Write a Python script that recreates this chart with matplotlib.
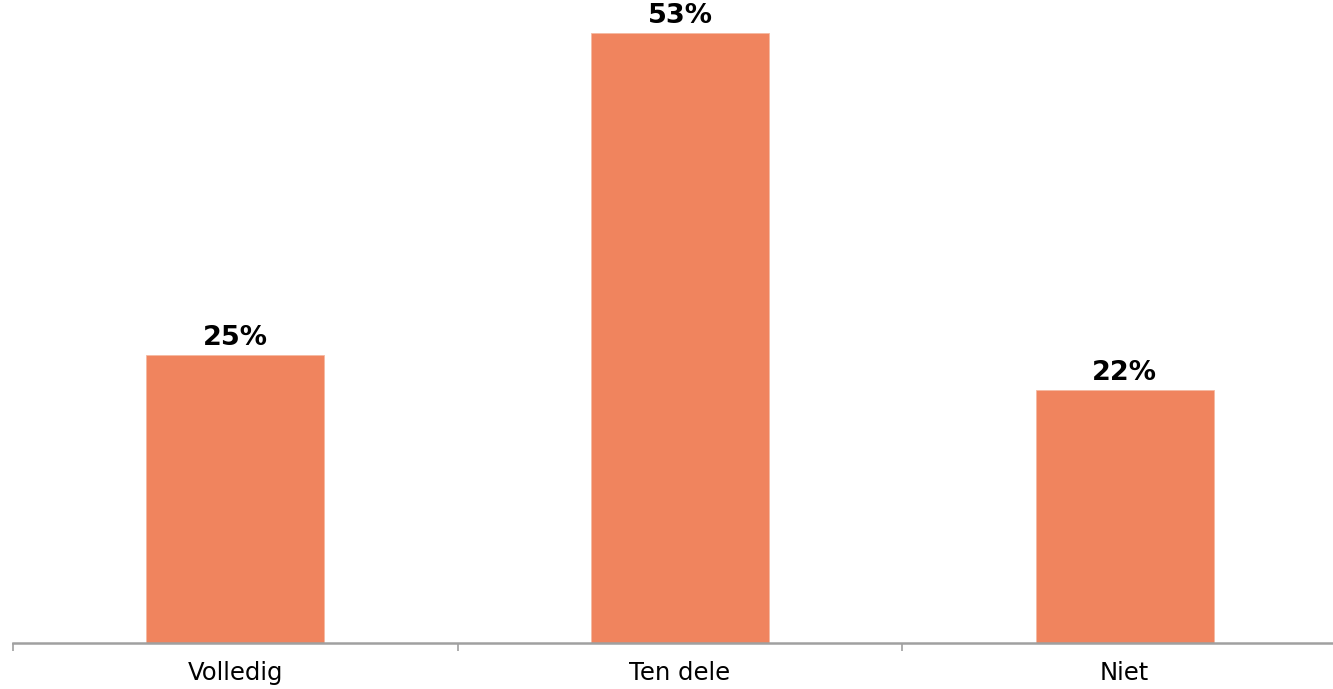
import numpy as np
import matplotlib.pyplot as plt

# data
categories = ['Volledig', 'Ten dele', 'Niet']
values = [25, 53, 22]
labels = ['25%', '53%', '22%']

fig = plt.figure(figsize=(13.33, 6.89), dpi=100)
# axis runs slightly past the right edge, like the original
ax = fig.add_axes([13 / 1333, 46 / 689, 1334 / 1333, 643 / 689])

x = np.arange(len(categories))
bars = ax.bar(x, values, width=0.4, color='#F0845E', edgecolor='#F5B9A2', linewidth=0.6)

for b, lab in zip(bars, labels):
    ax.text(b.get_x() + b.get_width() / 2, b.get_height() + 0.35, lab,
            ha='center', va='bottom', fontsize=19.5, fontweight='bold', color='black')

ax.set_xlim(-0.5, len(categories) - 0.5)
ax.set_ylim(0, 55.86)

# category labels, ticks only between categories
ax.set_xticks(x)
ax.set_xticklabels(categories, fontsize=17.5)
ax.tick_params(axis='x', which='major', length=0, pad=13)
ax.set_xticks(np.arange(-0.5, len(categories)), minor=True)
ax.tick_params(axis='x', which='minor', length=6, width=1.2, color='#A0A0A0', direction='out')

ax.set_yticks([])
for s in ['top', 'right', 'left']:
    ax.spines[s].set_visible(False)
ax.spines['bottom'].set_color('#A0A0A0')
ax.spines['bottom'].set_linewidth(1.8)

fig.savefig('out.png', dpi=100)
